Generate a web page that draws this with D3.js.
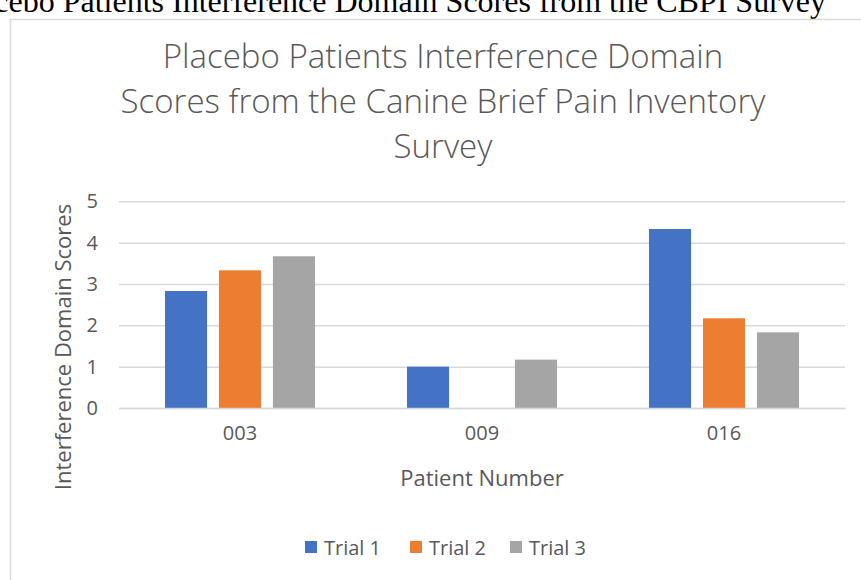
<!DOCTYPE html>
<html>
<head>
<meta charset="utf-8">
<script src="https://cdn.jsdelivr.net/npm/d3@7"></script>
<style>
  body { margin: 0; background: #fff; }
  text { font-family: "Open Sans", Lato, sans-serif; fill: #595959; }
</style>
</head>
<body>
<div id="chart"></div>
<script>
// Data
const patients = ["003", "009", "016"];
const trials = ["Trial 1", "Trial 2", "Trial 3"];
const trial1 = [2.83, 1.0, 4.33];
const trial2 = [3.33, 0, 2.17];
const trial3 = [3.67, 1.17, 1.83];
const yTicks = [0, 1, 2, 3, 4, 5];
const titleLines = [
  "Placebo Patients Interference Domain",
  "Scores from the Canine Brief Pain Inventory",
  "Survey"
];

const colors = ["#4472C4", "#ED7D31", "#A5A5A5"];

// table rows built from the arrays
const seriesValues = [trial1, trial2, trial3];
const rows = [];
patients.forEach((p, i) => {
  trials.forEach((t, j) => {
    rows.push({ patient: p, trial: t, value: seriesValues[j][i] });
  });
});

const W = 861, H = 580;
const svg = d3.select("#chart")
  .append("svg")
  .attr("width", W)
  .attr("height", H);

// caption text from the surrounding document, cut off at the top
svg.append("text")
  .attr("x", 826)
  .attr("y", 12)
  .attr("text-anchor", "end")
  .style("font-family", "'Liberation Serif', 'Times New Roman', serif")
  .style("font-size", "32px")
  .style("fill", "#000")
  .text("Placebo Patients Interference Domain Scores from the CBPI Survey");

// chart frame
svg.append("rect")
  .attr("x", 10.5)
  .attr("y", 19.5)
  .attr("width", 900)
  .attr("height", 600)
  .attr("fill", "none")
  .attr("stroke", "#D9D9D9")
  .attr("stroke-width", 1.5);

// plot area
const plot = { left: 119, right: 845, top: 201.3, bottom: 408 };

const x0 = d3.scaleBand()
  .domain(patients)
  .range([plot.left, plot.right])
  .padding(0);

const x1 = d3.scaleBand()
  .domain(trials)
  .range([x0.bandwidth() * 0.19, x0.bandwidth() * 0.81])
  .paddingInner(0.22)
  .paddingOuter(0);

const y = d3.scaleLinear()
  .domain([0, 5])
  .range([plot.bottom, plot.top]);

const color = d3.scaleOrdinal().domain(trials).range(colors);

// y axis with gridlines
const yAxis = svg.append("g")
  .attr("transform", `translate(${plot.left},0)`)
  .call(d3.axisLeft(y)
    .tickValues(yTicks)
    .tickFormat(d3.format("d"))
    .tickSize(-(plot.right - plot.left))
    .tickPadding(21));
yAxis.select(".domain").remove();
yAxis.selectAll("line")
  .attr("stroke", "#D9D9D9")
  .attr("stroke-width", 1.5);
yAxis.selectAll("text")
  .style("font-size", "20px")
  .style("font-family", "'Open Sans', Lato, sans-serif")
  .attr("fill", "#595959");

// bars
const group = svg.selectAll(".group")
  .data(d3.groups(rows, d => d.patient))
  .enter()
  .append("g")
  .attr("class", "group")
  .attr("transform", d => `translate(${x0(d[0])},0)`);

group.selectAll("rect")
  .data(d => d[1])
  .enter()
  .append("rect")
  .attr("x", d => x1(d.trial))
  .attr("y", d => y(d.value))
  .attr("width", x1.bandwidth())
  .attr("height", d => Math.max(0, y(0) - y(d.value)))
  .attr("fill", d => color(d.trial));

// x axis
const xAxis = svg.append("g")
  .attr("transform", `translate(0,${plot.bottom})`)
  .call(d3.axisBottom(x0).tickSize(0).tickPadding(18));
xAxis.select(".domain")
  .attr("stroke", "#D9D9D9")
  .attr("stroke-width", 1.5);
xAxis.selectAll("text")
  .style("font-size", "20px")
  .style("font-family", "'Open Sans', Lato, sans-serif")
  .attr("fill", "#595959");

// chart title
svg.selectAll(".title")
  .data(titleLines)
  .enter()
  .append("text")
  .attr("class", "title")
  .attr("x", 443)
  .attr("y", (d, i) => 68 + i * 45)
  .attr("text-anchor", "middle")
  .style("font-size", "33px")
  .style("font-weight", 300)
  .text(d => d);

// axis titles
svg.append("text")
  .attr("x", 482)
  .attr("y", 486)
  .attr("text-anchor", "middle")
  .style("font-size", "22px")
  .text("Patient Number");

svg.append("text")
  .attr("transform", "rotate(-90)")
  .attr("x", -347)
  .attr("y", 71)
  .attr("text-anchor", "middle")
  .style("font-size", "22px")
  .text("Interference Domain Scores");

// legend
const legendX = [305, 410, 510];
const legend = svg.append("g");
trials.forEach((t, i) => {
  legend.append("rect")
    .attr("x", legendX[i])
    .attr("y", 541)
    .attr("width", 12)
    .attr("height", 12)
    .attr("fill", color(t));
  legend.append("text")
    .attr("x", legendX[i] + 19)
    .attr("y", 555)
    .style("font-size", "20px")
    .text(t);
});
</script>
</body>
</html>
